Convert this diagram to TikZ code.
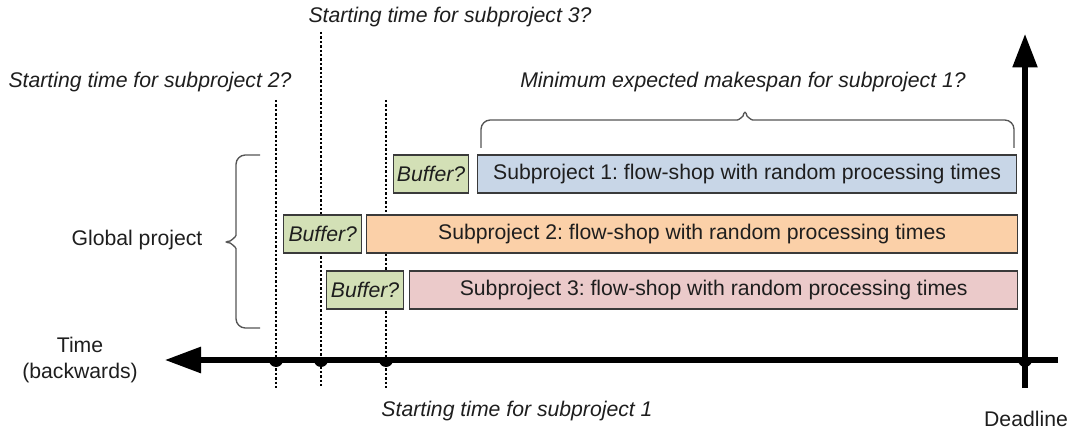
\documentclass[tikz,border=0pt]{standalone}
\usepackage{fontspec}
\setmainfont{Liberation Sans}
\usetikzlibrary{arrows.meta}
\definecolor{bufg}{HTML}{D3E0B6}
\definecolor{subb}{HTML}{C8D6E7}
\definecolor{subo}{HTML}{FBD0A8}
\definecolor{subp}{HTML}{EBCACA}
\definecolor{edge}{HTML}{3A3A3A}
\definecolor{txt}{HTML}{1E1E1E}
\definecolor{brc}{HTML}{555555}
\frenchspacing
\begin{document}
\begin{tikzpicture}[x=0.75pt,y=-0.75pt,
  every node/.style={font=\fontsize{15.9}{19.5}\selectfont,text=txt},
  box/.style={draw=edge,line width=1.1pt,minimum height=28.5pt,inner sep=0pt,anchor=west},
  bufbox/.style={box,fill=bufg,font=\fontsize{15.9}{19.5}\selectfont\itshape},
  lab/.style={font=\fontsize{15.9}{19.5}\selectfont\itshape},
  dline/.style={line width=1.6pt,dash pattern=on 1.8pt off 1.5pt},
  axis/.style={line width=3.8pt},
  bracestyle/.style={draw=brc,line width=1pt,rounded corners=7pt}]
\useasboundingbox (0,0) rectangle (1070,431);
% dotted lines (behind boxes)
\coordinate (d1t) at (276,100); \coordinate (d1b) at (276,388);
\coordinate (d2t) at (321,32);  \coordinate (d2b) at (321,388);
\coordinate (d3t) at (386,100); \coordinate (d3b) at (386,388);
\draw[dline] (d1t) -- (d1b);
\draw[dline] (d2t) -- (d2b);
\draw[dline] (d3t) -- (d3b);
% boxes
\node[bufbox,minimum width=56pt] (b1) at (393,174) {Buffer?};
\node[box,fill=subb,minimum width=404pt] (s1) at (477,174) {Subproject 1: flow-shop with random processing times};
\node[bufbox,minimum width=58.5pt] (b2) at (283,234) {Buffer?};
\node[box,fill=subo,minimum width=488pt] (s2) at (366,234) {Subproject 2: flow-shop with random processing times};
\node[bufbox,minimum width=57.5pt] (b3) at (326,290) {Buffer?};
\node[box,fill=subp,minimum width=456pt] (s3) at (409,290) {Subproject 3: flow-shop with random processing times};
% axes
\coordinate (hr) at (1058,360); \coordinate (hl) at (165,360);
\coordinate (vb) at (1025,388); \coordinate (vt) at (1025,34);
\draw[axis,-{Triangle[length=27pt,width=19pt]}] (hr) -- (hl);
\draw[axis,-{Triangle[length=25pt,width=18pt]}] (vb) -- (vt);
\foreach \x in {276,321,386,1025}{
  \fill (\x-7,360) arc (180:0:7) -- cycle;
}
% braces
\coordinate (lbt) at (260,155); \coordinate (lbb) at (260,328); \coordinate (lbtip) at (221,242);
\draw[bracestyle] (lbt) -- (236,155) -- (236,226)
  .. controls (236,237) and (230,241) .. (lbtip)
  .. controls (230,243) and (236,247) .. (236,258) -- (236,328) -- (lbb);
\coordinate (tbl) at (481,148); \coordinate (tbr) at (1014,148); \coordinate (tbtip) at (745,107);
\draw[bracestyle] (tbl) -- (481,120) -- (728,120)
  .. controls (739,120) and (743,116) .. (tbtip)
  .. controls (747,116) and (751,120) .. (762,120) -- (1014,120) -- (tbr);
% labels
\node[lab] (l3) at (450,17) {Starting time for subproject 3?};
\node[lab] (l2) at (150,82) {Starting time for subproject 2?};
\node[lab] (lm) at (743,82) {Minimum expected makespan for subproject 1?};
\node[lab] (l1) at (517,411) {Starting time for subproject 1};
\node (gp) at (137,240) {Global project};
\node[align=center] (tm) at (80,360) {Time\\(backwards)};
\node (dl) at (1026,419) {Deadline};
\end{tikzpicture}
\end{document}
